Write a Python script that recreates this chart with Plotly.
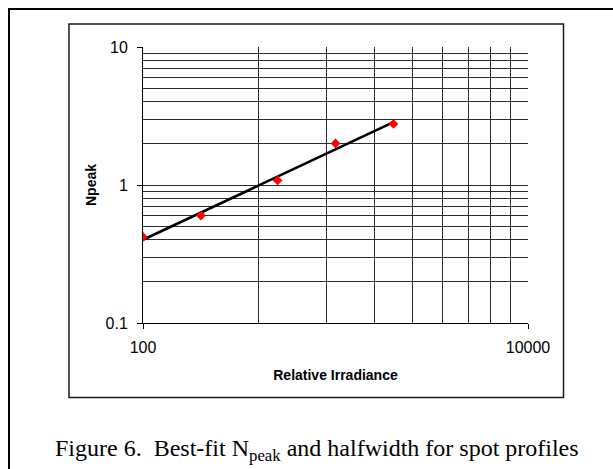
import numpy as np
import plotly.graph_objects as go

# Measured spot-profile peaks versus relative irradiance
irradiance = [100, 200, 500, 1000, 2000]
npeak = [0.42, 0.60, 1.08, 2.0, 2.77]

# Axis ticks (log scales); x minor grid follows Excel's base-100 log layout
x_major = [100, 10000]
x_minor = [400, 900, 1600, 2500, 3600, 4900, 6400, 8100]
y_major = [0.1, 1, 10]
y_minor = [0.2, 0.3, 0.4, 0.5, 0.6, 0.7, 0.8, 0.9, 2, 3, 4, 5, 6, 7, 8, 9]

caption = "Figure 6.  Best-fit N<sub>peak</sub> and halfwidth for spot profiles"

# Power-law trendline fitted in log-log space
slope, icpt = np.polyfit(np.log10(irradiance), np.log10(npeak), 1)
fit_x = np.array([min(irradiance), max(irradiance)])
fit_y = 10 ** (icpt + slope * np.log10(fit_x))

W, H = 613, 469
ML, MR, MT, MB = 143, 85, 47, 146
PW, PH = W - ML - MR, H - MT - MB


def px(x):
    return (x - ML) / PW


def py(y):
    return (H - MB - y) / PH


fig = go.Figure()
fig.add_trace(go.Scatter(
    x=fit_x, y=fit_y, mode="lines",
    line=dict(color="black", width=2.6), hoverinfo="skip", showlegend=False,
))
fig.add_trace(go.Scatter(
    x=irradiance, y=npeak, mode="markers",
    marker=dict(symbol="diamond", color="#ff0000", size=7.5),
    showlegend=False,
))

grid = "#2a2a2a"
axis_font = dict(family="Liberation Sans, Arial, sans-serif", size=16, color="black")
title_font = dict(family="Liberation Sans, Arial, sans-serif", size=14, color="black")

fig.update_xaxes(
    type="log", range=[2, 4],
    tickmode="array", tickvals=x_major, ticktext=["100", "10000"],
    ticks="outside", ticklen=5, tickwidth=1, tickcolor="black",
    ticklabelstandoff=5,
    showline=True, linecolor="black", linewidth=1,
    showgrid=True, gridcolor=grid, gridwidth=1,
    minor=dict(tickmode="array", tickvals=x_minor, showgrid=True,
               gridcolor=grid, gridwidth=1, ticks=""),
    tickfont=axis_font,
    title=dict(text="<b>Relative Irradiance</b>", font=title_font, standoff=14),
    zeroline=False,
)
fig.update_yaxes(
    type="log", range=[-1, 1],
    tickmode="array", tickvals=y_major, ticktext=["0.1", "1", "10"],
    ticks="outside", ticklen=5, tickwidth=1, tickcolor="black",
    ticklabelstandoff=6,
    showline=True, linecolor="black", linewidth=1,
    showgrid=True, gridcolor=grid, gridwidth=1,
    minor=dict(tickmode="array", tickvals=y_minor, showgrid=True,
               gridcolor=grid, gridwidth=1, ticks=""),
    tickfont=axis_font,
    title=dict(text="<b>Npeak</b>", font=title_font, standoff=5),
    zeroline=False,
)

shapes = [
    # outer page frame (runs off the right and bottom edges)
    dict(type="rect", xref="paper", yref="paper",
         x0=px(9), x1=px(W + 20), y0=py(9), y1=py(H + 20),
         line=dict(color="black", width=2), fillcolor="rgba(0,0,0,0)"),
    # chart area frame
    dict(type="rect", xref="paper", yref="paper",
         x0=px(69), x1=px(563.5), y0=py(24), y1=py(397.5),
         line=dict(color="#1a1a1a", width=1.5), fillcolor="rgba(0,0,0,0)"),
]

fig.add_annotation(
    text=caption, xref="paper", yref="paper",
    x=px(316.5), y=py(467), xanchor="center", yanchor="bottom",
    showarrow=False,
    font=dict(family="Liberation Serif, Times New Roman, serif", size=24, color="black"),
)

fig.update_layout(
    width=W, height=H,
    margin=dict(l=ML, r=MR, t=MT, b=MB, pad=0),
    paper_bgcolor="white", plot_bgcolor="white",
    shapes=shapes,
    showlegend=False,
)

fig.write_html("out.html")
